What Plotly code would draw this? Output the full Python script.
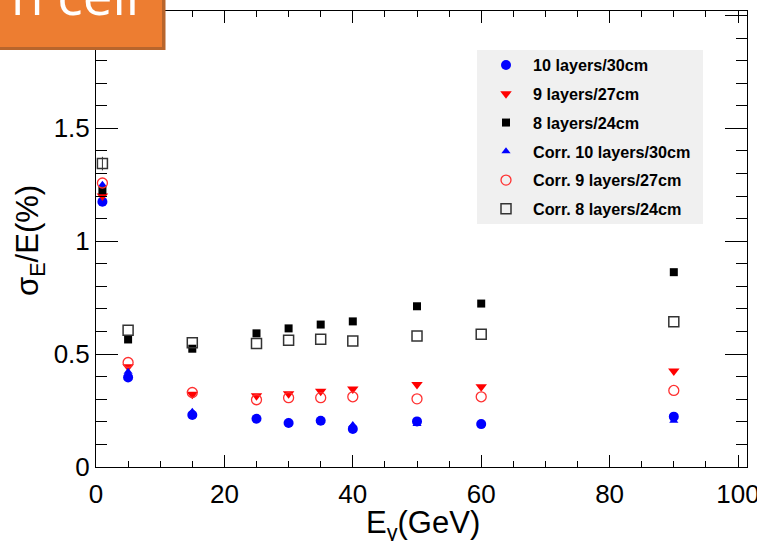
import plotly.graph_objects as go

# Photon energies (GeV)
energy = [1, 5, 15, 25, 30, 35, 40, 50, 60, 90]

# Energy resolution sigma_E/E (%) for each calorimeter depth
res_10l = [1.175, 0.397, 0.230, 0.214, 0.195, 0.205, 0.168, 0.202, 0.190, 0.223]
res_9l = [1.200, 0.444, 0.322, 0.316, 0.324, 0.336, 0.345, 0.366, 0.355, 0.425]
res_8l = [1.226, 0.565, 0.524, 0.592, 0.614, 0.631, 0.645, 0.712, 0.724, 0.863]
corr_10l = [1.250, 0.422, 0.245, 0.215, 0.200, 0.205, 0.186, 0.190, 0.190, 0.205]
corr_9l = [1.258, 0.463, 0.330, 0.298, 0.307, 0.307, 0.311, 0.302, 0.311, 0.339]
corr_8l = [1.344, 0.606, 0.550, 0.547, 0.562, 0.566, 0.558, 0.580, 0.588, 0.643]
corr_8l_err = [0.030, 0, 0, 0, 0, 0, 0, 0, 0, 0]

labels = ["10 layers/30cm", "9 layers/27cm", "8 layers/24cm",
          "Corr. 10 layers/30cm", "Corr. 9 layers/27cm", "Corr. 8 layers/24cm"]

W, H = 757, 541
ML, MR, MT, MB = 96, 10, 11, 74
PW, PH = W - ML - MR, H - MT - MB


def px(xp):
    return (xp - ML) / PW


def py(yp):
    return (H - MB - yp) / PH


fig = go.Figure()

styles = [
    (res_10l, dict(symbol="circle", size=10, color="#0000ff"), None),
    (res_9l, dict(symbol="triangle-down", size=10, color="#ff0000"), None),
    (res_8l, dict(symbol="square", size=8, color="#000000"), None),
    (corr_10l, dict(symbol="triangle-up", size=8, color="#0000ff"), None),
    (corr_9l, dict(symbol="circle-open", size=10, color="#ff3030",
                   line=dict(width=1.3, color="#ff3030")), None),
    (corr_8l, dict(symbol="square-open", size=10, color="#333333",
                   line=dict(width=1.5, color="#333333")), corr_8l_err),
]

for i, (vals, mk, err) in enumerate(styles):
    tr = go.Scatter(x=energy, y=vals, mode="markers", marker=mk,
                    name=labels[i], legendgroup=f"g{i}")
    if err is not None:
        tr.error_y = dict(type="data", array=err, color="#333333",
                          thickness=1, width=0)
    fig.add_trace(tr)

tick_font = dict(family="Liberation Sans, Arial, sans-serif", size=26, color="black")
title_font = dict(family="Liberation Sans, Arial, sans-serif", size=31, color="black")

fig.update_xaxes(range=[0, 101.4], showline=True, linecolor="black", linewidth=1,
                 mirror="allticks", ticks="inside", ticklen=12, tickwidth=1,
                 tickcolor="black", dtick=20, tick0=0, showgrid=False, zeroline=False,
                 tickfont=tick_font, ticklabeloverflow="allow", ticklabelstandoff=4,
                 automargin=False,
                 minor=dict(ticks="inside", ticklen=6, dtick=5, tickcolor="black",
                            showgrid=False))
fig.update_yaxes(range=[0, 2.02], showline=True, linecolor="black", linewidth=1,
                 mirror="allticks", ticks="inside", ticklen=22, tickwidth=1,
                 tickcolor="black", dtick=0.5, tick0=0, showgrid=False, zeroline=False,
                 tickfont=tick_font, ticklabeloverflow="allow", automargin=False,
                 minor=dict(ticks="inside", ticklen=11, dtick=0.1, tickcolor="black",
                            showgrid=False))

shapes = [
    # legend background
    dict(type="rect", xref="paper", yref="paper", x0=px(477), x1=px(703),
         y0=py(224), y1=py(50), fillcolor="#f0f0f0", line=dict(width=0),
         layer="below"),
    # title banner shadow and body
    dict(type="rect", xref="paper", yref="paper", x0=px(-2), x1=px(165.5),
         y0=py(50), y1=py(-2), fillcolor="#b8652c", line=dict(width=0),
         layer="above"),
    dict(type="rect", xref="paper", yref="paper", x0=px(-2), x1=px(162),
         y0=py(47), y1=py(-2), fillcolor="#ed7d31", line=dict(width=0),
         layer="above"),
]

annotations = [
    dict(text="n cell", xref="paper", yref="paper", x=px(9), y=py(-6),
         xanchor="left", yanchor="middle", showarrow=False,
         font=dict(family="Open Sans, sans-serif", size=53, color="white")),
    dict(text="E<sub>γ</sub>(GeV)", xref="paper", yref="paper",
         x=px(423), y=py(525), xanchor="center", yanchor="middle",
         showarrow=False, font=title_font),
    dict(text="σ<sub>E</sub>/E(%)", xref="paper", yref="paper",
         x=px(30), y=py(241), xanchor="center", yanchor="middle",
         textangle=-90, showarrow=False, font=title_font),
]

fig.update_layout(
    width=W, height=H,
    margin=dict(l=ML, r=MR, t=MT, b=MB, pad=0, autoexpand=False),
    paper_bgcolor="white", plot_bgcolor="white",
    showlegend=True,
    legend=dict(x=px(479), y=py(48), xanchor="left", yanchor="top",
                bgcolor="rgba(0,0,0,0)", borderwidth=0,
                font=dict(family="Liberation Sans, Arial, sans-serif", size=16.2,
                          color="black", weight="bold"),
                itemwidth=44, tracegroupgap=4.7),
    shapes=shapes,
    annotations=annotations,
)

fig.write_html("out.html")
